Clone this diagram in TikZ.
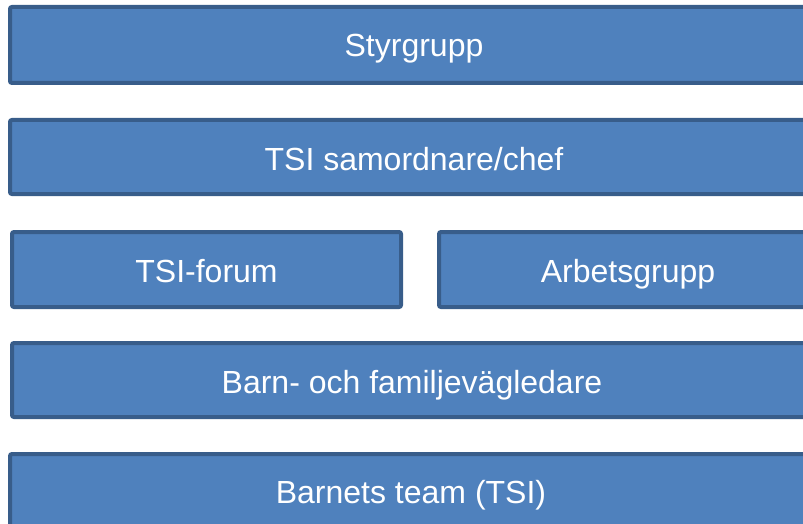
\documentclass[tikz,border=0pt]{standalone}
\usepackage{fontspec}
\setmainfont{Liberation Sans}
\definecolor{boxfill}{HTML}{4F81BD}
\definecolor{boxline}{HTML}{385D8A}
\begin{document}
\begin{tikzpicture}[x=1pt,y=-1pt,
  orgbox/.style={draw=boxline, fill=boxfill, line width=4pt, rounded corners=2pt},
  lbl/.style={text=white, font=\fontsize{32}{38}\selectfont, inner sep=0pt, anchor=base}]
\useasboundingbox (0,0) rectangle (803,524);
\begin{scope}
\clip (0,0) rectangle (803,524);
\draw[orgbox] (10,7) rectangle (822,83);
\node[lbl] (styr) at (414,57) {Styrgrupp};
\draw[orgbox] (10,120) rectangle (822,194);
\node[lbl] (samo) at (414,170) {TSI samordnare/chef};
\draw[orgbox] (12,232) rectangle (401,307);
\node[lbl] (forum) at (206.5,282) {TSI-forum};
\draw[orgbox] (439,232) rectangle (822,307);
\node[lbl] (arb) at (628,282) {Arbetsgrupp};
\draw[orgbox] (12,343) rectangle (822,417);
\node[lbl] (barn) at (412,393) {Barn- och familjevägledare};
\draw[orgbox] (10,454) rectangle (822,540);
\node[lbl] (team) at (411,503) {Barnets team (TSI)};
\end{scope}
\end{tikzpicture}
\end{document}
